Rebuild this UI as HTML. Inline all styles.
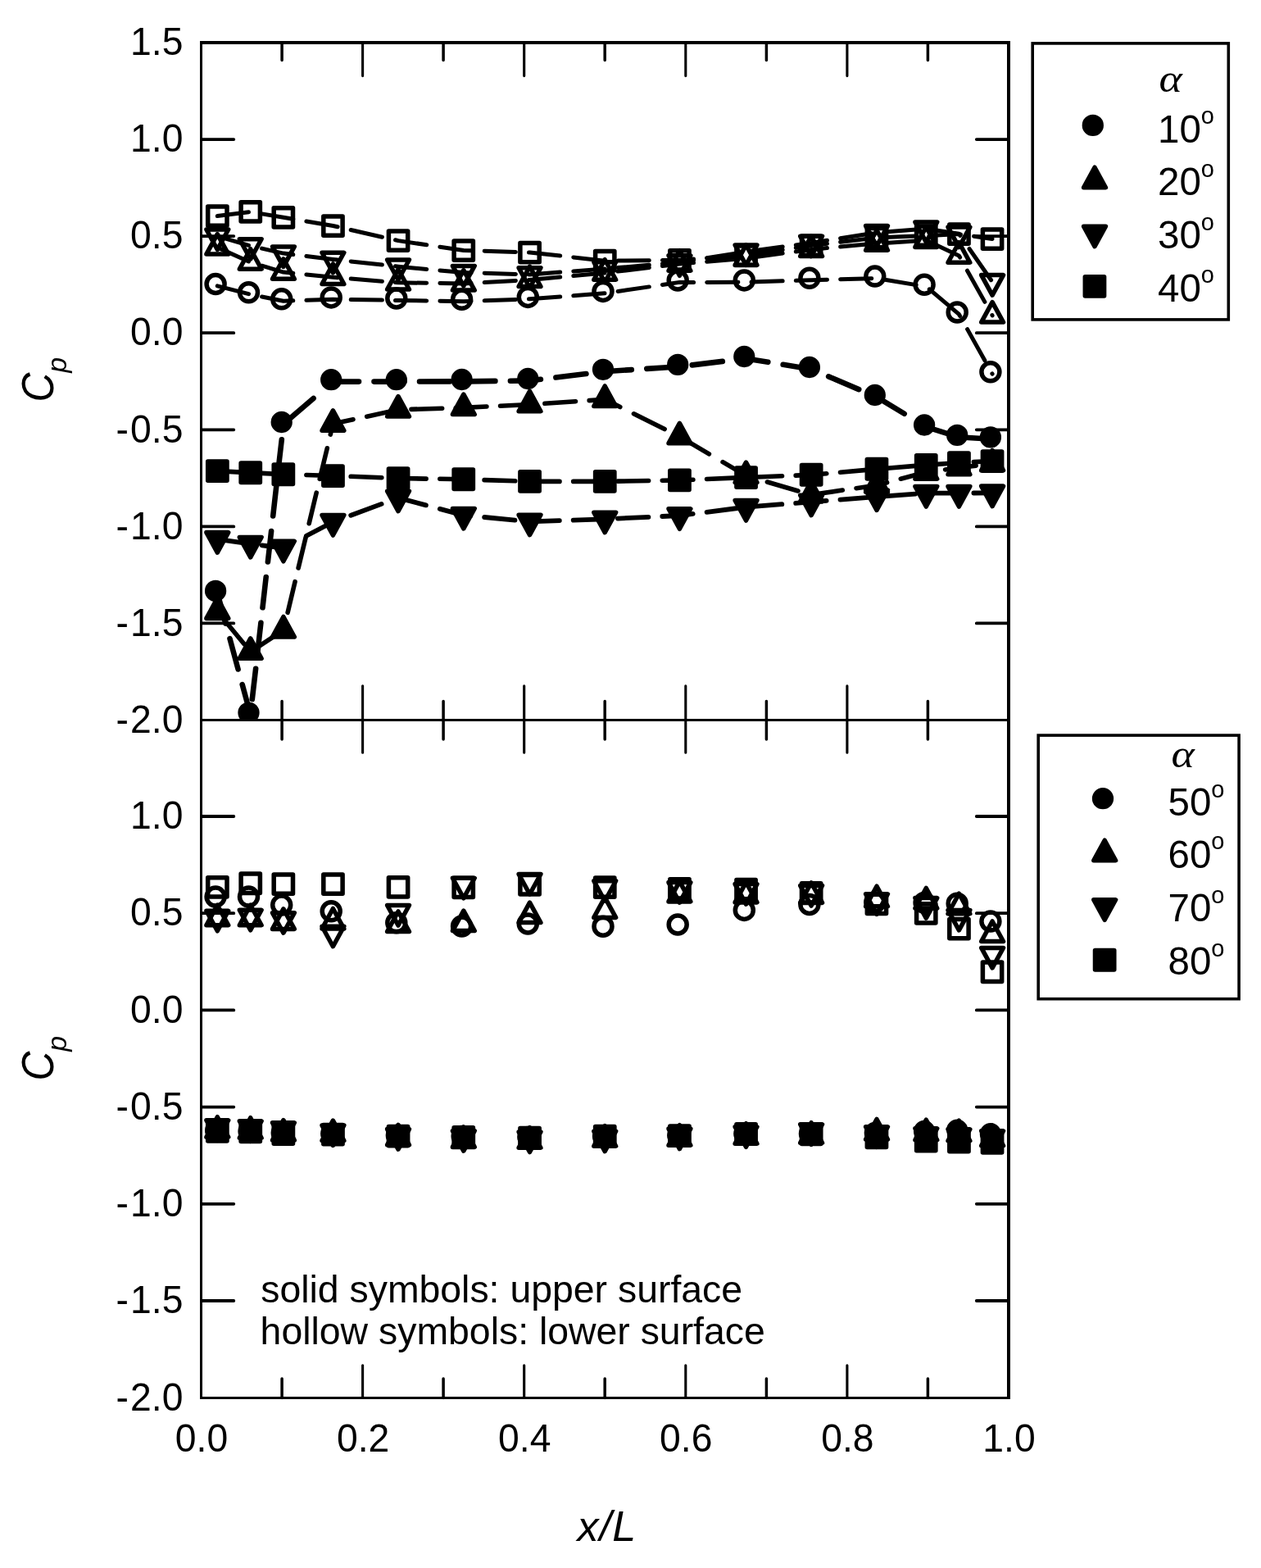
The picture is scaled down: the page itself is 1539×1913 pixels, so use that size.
<!DOCTYPE html>
<html lang="en"><head><meta charset="utf-8"><title>Cp distribution</title>
<style>
html,body{margin:0;padding:0;background:#fff;}
body{width:1539px;height:1913px;overflow:hidden;}
svg{display:block;}
text{font-family:"Liberation Sans",Arial,Helvetica,sans-serif;fill:#000;}
.tk{font-size:47.5px;}
.an{font-size:46.4px;}
.ti{font-size:52px;font-style:italic;}
.fr{fill:none;stroke:#000;stroke-width:3.2;stroke-linecap:square;}
.t{stroke:#000;stroke-linecap:round;fill:none;}
.ln{fill:none;stroke:#000;stroke-linecap:round;stroke-linejoin:round;}
.h{fill:none;stroke:#000;stroke-width:5.5;stroke-linejoin:round;}
.s{fill:#000;stroke:#000;stroke-width:5.5;stroke-linejoin:round;}
.lg{fill:#fff;stroke:#000;stroke-width:3.6;}
</style></head><body>
<svg width="1539" height="1913" viewBox="0 0 1539 1913">
<rect x="0" y="0" width="1539" height="1913" fill="#fff"/>
<defs>
<clipPath id="cpt"><rect x="245.5" y="52.0" width="985.5999999999999" height="826.3"/></clipPath>
<clipPath id="cpb"><rect x="245.5" y="878.3" width="985.5999999999999" height="827.4000000000001"/></clipPath>
</defs>
<g clip-path="url(#cpt)">
<path class="ln" stroke-width="6.6" d="M265.3 723.3L275.4 760.6M280.5 779.2L290.6 816.5M295.7 835.1L305.7 872L305.7 871.7M307.8 853L312.1 815.8M314.2 797.2L318.4 759.9M320.5 741.3L324.7 704M326.9 685.4L331.1 648.1M333.2 629.5L337.4 592.2M339.5 573.6L343.8 536.4M345.9 517.7L345.9 517.4L382.6 486M401 470.2L406.4 465.6L438 465.6M456.5 465.6L486 465.6L493.5 465.6M512 465.5L549 465.4M567.4 465.4L604.4 464.9M622.9 464.7L646.5 464.4L659.9 462.8M678.4 460.5L715.4 456M733.8 453.7L738.2 453.2L770.8 451.1M789.3 449.9L826.3 447.5M844.8 445.4L881.8 440.9M900.3 438.7L910.5 437.4L937.3 441.8M955.7 444.8L990.1 450.4L992.7 451.5M1011.2 459.4L1048.2 475.1M1066.7 483L1070 484.4L1103.7 504.8M1122.1 516L1130.3 520.9L1159.1 529.8M1177.6 533.7L1211.1 535.8"/>
<path class="ln" stroke-width="5.6" d="M267 748.2L298 785.8M313.1 790.3L345.9 768.8L347.1 764M351.1 747.3L360.1 709.7M364.1 693L373.2 655.4M377.2 638.7L386.2 601.1M390.2 584.4L399.3 546.8M403.3 530.1L406.4 517.1L431 511.8M447.7 508.2L485.3 500.1M502 499.4L539.6 498.2M556.3 497.7L565.8 497.4L593.9 496M610.6 495.2L646.5 493.5L648.2 493.4M664.9 492.3L702.5 489.7M719.2 488.6L738.2 487.3L756.8 496.5M773.5 504.8L811.1 523.5M827.8 531.8L829.4 532.6L865.4 553.8M882.1 563.7L910.5 580.4L919.7 583.1M936.4 588L974 599M990.7 603.6L1028.3 598.1M1045 595.7L1070 592L1082.6 588.7M1099.3 584.2L1130.3 576L1136.9 575.1M1153.6 572.9L1170.4 570.6L1191.2 568.1M1207.9 566.1L1211.1 565.7"/>
<path class="ln" stroke-width="5.8" d="M265.3 657.8L302.7 663.2M319.6 665.3L345.9 668.5L357 662.7M373.9 653.8L406.4 636.7L411.3 634.9M428.2 628.7L465.6 614.9M482.5 608.7L486 607.4L519.9 616.4M536.8 620.9L565.8 628.6L574.2 629.4M591.1 631L628.5 634.7M645.4 636.3L646.5 636.4L682.8 635.2M699.7 634.7L737.1 633.4M754 632.6L791.4 630.8M808.3 630L829.4 629L845.7 626.9M862.6 624.8L900 620M916.9 618.2L954.3 615.2M971.2 613.9L990.1 612.4L1008.6 610.9M1025.5 609.6L1062.9 606.7M1079.8 605.4L1117.2 602.7M1134.1 601.7L1170.4 601.7L1171.5 601.7M1188.4 601.5L1211.1 601.3"/>
<path class="ln" stroke-width="5.6" d="M265.3 574.6L302.9 576.6M319.6 577.4L345.9 578.7L357.2 579M373.9 579.5L406.4 580.5L411.5 580.7M428.2 581.3L465.8 582.7M482.5 583.4L486 583.5L520.1 584.1M536.8 584.3L565.8 584.8L574.4 585.1M591.1 585.6L628.7 586.8M645.4 587.4L646.5 587.4L683 587.4M699.7 587.4L737.3 587.4M754 587.1L791.6 586.5M808.3 586.2L829.4 585.9L845.9 585.2M862.6 584.5L900.2 582.9M916.9 582.2L954.5 580.7M971.2 580.1L990.1 579.3L1008.8 577.7M1025.5 576.2L1063.1 572.9M1079.8 571.5L1117.4 568.4M1134.1 567.1L1170.4 564.5L1171.7 564.4M1188.4 563.6L1211.1 562.5"/>
<path class="ln" stroke-width="5.0" d="M265.3 348.9L303.5 358.6M319.6 362L345.9 367.2L357.8 366.8M373.9 366.3L406.4 365.3L412.1 365.4M428.2 365.6L466.4 366.1M482.5 366.4L486 366.4L520.7 367M536.9 367.2L565.8 367.7L575 367.4M591.2 366.8L629.4 365.4M645.5 364.8L646.5 364.8L683.7 362M699.8 360.7L738 357.8M754.1 355.5L792.3 349.9M808.4 347.5L829.4 344.4L846.6 344.4M862.7 344.4L900.9 344.3M917 344.1L955.2 342.8M971.3 342.3L990.1 341.7L1009.5 341.2M1025.6 340.7L1063.8 339.7M1080 341.2L1118.2 347.6M1134.3 352.9L1170.4 383.4L1171.6 385.5M1180.6 401.6L1201.9 439.8M1210.9 455.9L1211.1 456.2"/>
<path class="ln" stroke-width="5.0" d="M265.3 301.9L303.5 319M319.6 324.2L345.9 332.1L357.8 333.3M373.9 335L406.4 338.3L412.1 338.8M428.2 340.1L466.4 343.2M482.5 344.5L486 344.8L520.7 345.3M536.9 345.5L565.8 345.9L575 345.4M591.2 344.5L629.4 342.4M645.5 341.5L646.5 341.4L683.7 338M699.8 336.5L738 333M754.1 331.1L792.3 326.5M808.4 324.5L829.4 322L846.6 320.6M862.7 319.2L900.9 316M917 314.3L955.2 309.1M971.3 306.9L990.1 304.4L1009.5 302.6M1025.6 301.1L1063.8 297.6M1080 296.4L1118.2 294M1134.3 295.1L1170.4 312L1171.6 314.1M1180.5 330.2L1201.9 368.4M1210.9 384.5L1211.1 384.9"/>
<path class="ln" stroke-width="5.0" d="M265.3 288.2L303.5 299.3M319.6 303.1L345.9 309.1L357.8 310.6M373.9 312.5L406.4 316.5L412.1 317.1M428.2 318.9L466.4 323.1M482.5 324.8L486 325.2L520.7 328.4M536.9 329.9L565.8 332.6L575 332.9M591.2 333.3L629.4 334.4M645.5 334.9L646.5 334.9L683.7 332.1M699.8 330.9L738 328M754.1 326.6L792.3 323.3M808.4 321.8L829.4 320L846.6 317.3M862.7 314.7L900.9 308.6M917 306.2L955.2 301.1M971.3 298.9L990.1 296.4L1009.5 293.3M1025.6 290.8L1063.8 284.8M1080 283L1118.2 280M1134.3 279.7L1170.4 285.3L1171.8 287.4M1183 303.5L1209.6 341.7"/>
<path class="ln" stroke-width="5.0" d="M265.3 263.6L303.5 258.8M319.6 260.9L345.9 265.3L357.8 267.3M373.9 270L406.4 275.5L412.1 276.8M428.2 280.5L466.4 289.2M482.5 292.8L486 293.6L520.7 298.8M536.9 301.2L565.8 305.5L575 305.8M591.2 306.3L629.4 307.5M645.5 308L646.5 308L683.7 312.1M699.8 313.9L738 318.2M754.1 318.1L792.3 317.7M808.4 317.6L829.4 317.4L846.6 316.1M862.7 315L900.9 312.2M917 310.5L955.2 304.8M971.3 302.4L990.1 299.6L1009.5 297.3M1025.6 295.3L1063.8 290.7M1080 289.6L1118.2 288.1M1134.3 287.4L1170.4 285.6L1172.5 285.9M1188.6 288.2L1211.1 291.5"/>
<g><circle class="s" cx="263.1" cy="720.9" r="10.4"/><circle class="s" cx="303.5" cy="869.6" r="10.4"/><circle class="s" cx="343.7" cy="515" r="10.4"/><circle class="s" cx="404.2" cy="463.2" r="10.4"/><circle class="s" cx="483.8" cy="463.2" r="10.4"/><circle class="s" cx="563.6" cy="463" r="10.4"/><circle class="s" cx="644.3" cy="462" r="10.4"/><circle class="s" cx="736" cy="450.8" r="10.4"/><circle class="s" cx="827.2" cy="444.9" r="10.4"/><circle class="s" cx="908.3" cy="435" r="10.4"/><circle class="s" cx="987.9" cy="448" r="10.4"/><circle class="s" cx="1067.8" cy="482" r="10.4"/><circle class="s" cx="1128.1" cy="518.5" r="10.4"/><circle class="s" cx="1168.2" cy="530.9" r="10.4"/><circle class="s" cx="1208.9" cy="533.4" r="10.4"/></g>
<g><polygon class="s" points="265.3,729.9 278.7,754.4 251.9,754.4"/><polygon class="s" points="305.7,778.8 319.1,803.3 292.3,803.3"/><polygon class="s" points="345.9,752.5 359.3,777 332.5,777"/><polygon class="s" points="406.4,500.8 419.8,525.3 393,525.3"/><polygon class="s" points="486,483.6 499.4,508.1 472.6,508.1"/><polygon class="s" points="565.8,481.1 579.2,505.6 552.4,505.6"/><polygon class="s" points="646.5,477.2 659.9,501.7 633.1,501.7"/><polygon class="s" points="738.2,471 751.6,495.5 724.8,495.5"/><polygon class="s" points="829.4,516.3 842.8,540.8 816,540.8"/><polygon class="s" points="910.5,564.1 923.9,588.6 897.1,588.6"/><polygon class="s" points="990.1,587.4 1003.5,611.9 976.7,611.9"/><polygon class="s" points="1070,575.7 1083.4,600.2 1056.6,600.2"/><polygon class="s" points="1130.3,559.7 1143.7,584.2 1116.9,584.2"/><polygon class="s" points="1170.4,554.3 1183.8,578.8 1157,578.8"/><polygon class="s" points="1211.1,549.4 1224.5,573.9 1197.7,573.9"/></g>
<g><polygon class="s" points="265.3,674.1 278.7,649.6 251.9,649.6"/><polygon class="s" points="305.7,679.9 319.1,655.4 292.3,655.4"/><polygon class="s" points="345.9,684.8 359.3,660.3 332.5,660.3"/><polygon class="s" points="406.4,653 419.8,628.5 393,628.5"/><polygon class="s" points="486,623.7 499.4,599.2 472.6,599.2"/><polygon class="s" points="565.8,644.9 579.2,620.4 552.4,620.4"/><polygon class="s" points="646.5,652.7 659.9,628.2 633.1,628.2"/><polygon class="s" points="738.2,649.7 751.6,625.2 724.8,625.2"/><polygon class="s" points="829.4,645.3 842.8,620.8 816,620.8"/><polygon class="s" points="910.5,635 923.9,610.5 897.1,610.5"/><polygon class="s" points="990.1,628.7 1003.5,604.2 976.7,604.2"/><polygon class="s" points="1070,622.4 1083.4,597.9 1056.6,597.9"/><polygon class="s" points="1130.3,618 1143.7,593.5 1116.9,593.5"/><polygon class="s" points="1170.4,618 1183.8,593.5 1157,593.5"/><polygon class="s" points="1211.1,617.6 1224.5,593.1 1197.7,593.1"/></g>
<g><rect class="s" x="253.7" y="563" width="23.3" height="23.3"/><rect class="s" x="294.1" y="565.1" width="23.3" height="23.3"/><rect class="s" x="334.2" y="567.1" width="23.3" height="23.3"/><rect class="s" x="394.8" y="568.9" width="23.3" height="23.3"/><rect class="s" x="474.4" y="571.9" width="23.3" height="23.3"/><rect class="s" x="554.1" y="573.1" width="23.3" height="23.3"/><rect class="s" x="634.9" y="575.8" width="23.3" height="23.3"/><rect class="s" x="726.6" y="575.8" width="23.3" height="23.3"/><rect class="s" x="817.8" y="574.2" width="23.3" height="23.3"/><rect class="s" x="898.9" y="570.9" width="23.3" height="23.3"/><rect class="s" x="978.5" y="567.6" width="23.3" height="23.3"/><rect class="s" x="1058.3" y="560.6" width="23.3" height="23.3"/><rect class="s" x="1118.6" y="555.8" width="23.3" height="23.3"/><rect class="s" x="1158.8" y="552.9" width="23.3" height="23.3"/><rect class="s" x="1199.4" y="550.9" width="23.3" height="23.3"/></g>
<g><circle class="h" cx="263.1" cy="346.5" r="11.0"/><circle class="h" cx="303.5" cy="356.8" r="11.0"/><circle class="h" cx="343.7" cy="364.8" r="11.0"/><circle class="h" cx="404.2" cy="362.9" r="11.0"/><circle class="h" cx="483.8" cy="364" r="11.0"/><circle class="h" cx="563.6" cy="365.3" r="11.0"/><circle class="h" cx="644.3" cy="362.4" r="11.0"/><circle class="h" cx="736" cy="355.4" r="11.0"/><circle class="h" cx="827.2" cy="342" r="11.0"/><circle class="h" cx="908.3" cy="341.9" r="11.0"/><circle class="h" cx="987.9" cy="339.3" r="11.0"/><circle class="h" cx="1067.8" cy="337.1" r="11.0"/><circle class="h" cx="1128.1" cy="347.2" r="11.0"/><circle class="h" cx="1168.2" cy="381" r="11.0"/><circle class="h" cx="1208.9" cy="453.8" r="11.0"/></g>
<g><polygon class="h" points="265.3,285.6 278.7,310.1 251.9,310.1"/><polygon class="h" points="305.7,303.7 319.1,328.2 292.3,328.2"/><polygon class="h" points="345.9,315.8 359.3,340.3 332.5,340.3"/><polygon class="h" points="406.4,322 419.8,346.5 393,346.5"/><polygon class="h" points="486,328.5 499.4,353 472.6,353"/><polygon class="h" points="565.8,329.6 579.2,354.1 552.4,354.1"/><polygon class="h" points="646.5,325.1 659.9,349.6 633.1,349.6"/><polygon class="h" points="738.2,316.7 751.6,341.2 724.8,341.2"/><polygon class="h" points="829.4,305.7 842.8,330.2 816,330.2"/><polygon class="h" points="910.5,298.9 923.9,323.4 897.1,323.4"/><polygon class="h" points="990.1,288.1 1003.5,312.6 976.7,312.6"/><polygon class="h" points="1070,280.7 1083.4,305.2 1056.6,305.2"/><polygon class="h" points="1130.3,276.9 1143.7,301.4 1116.9,301.4"/><polygon class="h" points="1170.4,295.7 1183.8,320.2 1157,320.2"/><polygon class="h" points="1211.1,368.6 1224.5,393.1 1197.7,393.1"/></g>
<g><polygon class="h" points="265.3,304.5 278.7,280 251.9,280"/><polygon class="h" points="305.7,316.2 319.1,291.7 292.3,291.7"/><polygon class="h" points="345.9,325.4 359.3,300.9 332.5,300.9"/><polygon class="h" points="406.4,332.8 419.8,308.3 393,308.3"/><polygon class="h" points="486,341.5 499.4,317 472.6,317"/><polygon class="h" points="565.8,348.9 579.2,324.4 552.4,324.4"/><polygon class="h" points="646.5,351.2 659.9,326.7 633.1,326.7"/><polygon class="h" points="738.2,344.3 751.6,319.8 724.8,319.8"/><polygon class="h" points="829.4,336.3 842.8,311.8 816,311.8"/><polygon class="h" points="910.5,323.4 923.9,298.9 897.1,298.9"/><polygon class="h" points="990.1,312.7 1003.5,288.2 976.7,288.2"/><polygon class="h" points="1070,300.1 1083.4,275.6 1056.6,275.6"/><polygon class="h" points="1130.3,295.4 1143.7,270.9 1116.9,270.9"/><polygon class="h" points="1170.4,301.6 1183.8,277.1 1157,277.1"/><polygon class="h" points="1211.1,360.1 1224.5,335.6 1197.7,335.6"/></g>
<g><rect class="h" x="253.7" y="252" width="23.3" height="23.3"/><rect class="h" x="294.1" y="246.8" width="23.3" height="23.3"/><rect class="h" x="334.2" y="253.7" width="23.3" height="23.3"/><rect class="h" x="394.8" y="263.9" width="23.3" height="23.3"/><rect class="h" x="474.4" y="282" width="23.3" height="23.3"/><rect class="h" x="554.1" y="293.9" width="23.3" height="23.3"/><rect class="h" x="634.9" y="296.4" width="23.3" height="23.3"/><rect class="h" x="726.6" y="306.6" width="23.3" height="23.3"/><rect class="h" x="817.8" y="305.8" width="23.3" height="23.3"/><rect class="h" x="898.9" y="299.9" width="23.3" height="23.3"/><rect class="h" x="978.5" y="288" width="23.3" height="23.3"/><rect class="h" x="1058.3" y="278.4" width="23.3" height="23.3"/><rect class="h" x="1118.6" y="276" width="23.3" height="23.3"/><rect class="h" x="1158.8" y="274" width="23.3" height="23.3"/><rect class="h" x="1199.4" y="279.9" width="23.3" height="23.3"/></g>
</g>
<g clip-path="url(#cpb)">
<g><circle class="s" cx="263.1" cy="1379" r="10.4"/><circle class="s" cx="303.5" cy="1380" r="10.4"/><circle class="s" cx="343.7" cy="1382" r="10.4"/><circle class="s" cx="404.2" cy="1383" r="10.4"/><circle class="s" cx="483.8" cy="1385" r="10.4"/><circle class="s" cx="563.6" cy="1386" r="10.4"/><circle class="s" cx="644.3" cy="1387" r="10.4"/><circle class="s" cx="736" cy="1386" r="10.4"/><circle class="s" cx="827.2" cy="1385" r="10.4"/><circle class="s" cx="908.3" cy="1383" r="10.4"/><circle class="s" cx="987.9" cy="1383" r="10.4"/><circle class="s" cx="1067.8" cy="1382" r="10.4"/><circle class="s" cx="1128.1" cy="1380" r="10.4"/><circle class="s" cx="1168.2" cy="1378.7" r="10.4"/><circle class="s" cx="1208.9" cy="1383.2" r="10.4"/></g>
<g><polygon class="s" points="265.3,1362.7 278.7,1387.2 251.9,1387.2"/><polygon class="s" points="305.7,1363.7 319.1,1388.2 292.3,1388.2"/><polygon class="s" points="345.9,1366.6 359.3,1391.1 332.5,1391.1"/><polygon class="s" points="406.4,1367.1 419.8,1391.6 393,1391.6"/><polygon class="s" points="486,1372.3 499.4,1396.8 472.6,1396.8"/><polygon class="s" points="565.8,1374.9 579.2,1399.4 552.4,1399.4"/><polygon class="s" points="646.5,1375.7 659.9,1400.2 633.1,1400.2"/><polygon class="s" points="738.2,1373.7 751.6,1398.2 724.8,1398.2"/><polygon class="s" points="829.4,1372.7 842.8,1397.2 816,1397.2"/><polygon class="s" points="910.5,1370.7 923.9,1395.2 897.1,1395.2"/><polygon class="s" points="990.1,1369.7 1003.5,1394.2 976.7,1394.2"/><polygon class="s" points="1070,1365.5 1083.4,1390 1056.6,1390"/><polygon class="s" points="1130.3,1366.2 1143.7,1390.7 1116.9,1390.7"/><polygon class="s" points="1170.4,1367.2 1183.8,1391.7 1157,1391.7"/><polygon class="s" points="1211.1,1373.2 1224.5,1397.7 1197.7,1397.7"/></g>
<g><polygon class="s" points="265.3,1391.3 278.7,1366.8 251.9,1366.8"/><polygon class="s" points="305.7,1392.3 319.1,1367.8 292.3,1367.8"/><polygon class="s" points="345.9,1394.3 359.3,1369.8 332.5,1369.8"/><polygon class="s" points="406.4,1397.4 419.8,1372.9 393,1372.9"/><polygon class="s" points="486,1402.1 499.4,1377.6 472.6,1377.6"/><polygon class="s" points="565.8,1404.2 579.2,1379.7 552.4,1379.7"/><polygon class="s" points="646.5,1405.5 659.9,1381 633.1,1381"/><polygon class="s" points="738.2,1404.7 751.6,1380.2 724.8,1380.2"/><polygon class="s" points="829.4,1401.6 842.8,1377.1 816,1377.1"/><polygon class="s" points="910.5,1399.3 923.9,1374.8 897.1,1374.8"/><polygon class="s" points="990.1,1396.3 1003.5,1371.8 976.7,1371.8"/><polygon class="s" points="1070,1399.3 1083.4,1374.8 1056.6,1374.8"/><polygon class="s" points="1130.3,1401.3 1143.7,1376.8 1116.9,1376.8"/><polygon class="s" points="1170.4,1402.3 1183.8,1377.8 1157,1377.8"/><polygon class="s" points="1211.1,1404.3 1224.5,1379.8 1197.7,1379.8"/></g>
<g><rect class="s" x="253.7" y="1368.8" width="23.3" height="23.3"/><rect class="s" x="294.1" y="1369.2" width="23.3" height="23.3"/><rect class="s" x="334.2" y="1372" width="23.3" height="23.3"/><rect class="s" x="394.8" y="1372.5" width="23.3" height="23.3"/><rect class="s" x="474.4" y="1374.4" width="23.3" height="23.3"/><rect class="s" x="554.1" y="1375.8" width="23.3" height="23.3"/><rect class="s" x="634.9" y="1376.5" width="23.3" height="23.3"/><rect class="s" x="726.6" y="1374.4" width="23.3" height="23.3"/><rect class="s" x="817.8" y="1373.9" width="23.3" height="23.3"/><rect class="s" x="898.9" y="1371.8" width="23.3" height="23.3"/><rect class="s" x="978.5" y="1372.2" width="23.3" height="23.3"/><rect class="s" x="1058.3" y="1376.3" width="23.3" height="23.3"/><rect class="s" x="1118.6" y="1380.5" width="23.3" height="23.3"/><rect class="s" x="1158.8" y="1381.5" width="23.3" height="23.3"/><rect class="s" x="1199.4" y="1382.6" width="23.3" height="23.3"/></g>
<g><circle class="h" cx="263.1" cy="1094.1" r="11.0"/><circle class="h" cx="303.5" cy="1094.1" r="11.0"/><circle class="h" cx="343.7" cy="1104.1" r="11.0"/><circle class="h" cx="404.2" cy="1111.8" r="11.0"/><circle class="h" cx="483.8" cy="1125.8" r="11.0"/><circle class="h" cx="563.6" cy="1130" r="11.0"/><circle class="h" cx="644.3" cy="1127" r="11.0"/><circle class="h" cx="736" cy="1130.2" r="11.0"/><circle class="h" cx="827.2" cy="1128" r="11.0"/><circle class="h" cx="908.3" cy="1110.4" r="11.0"/><circle class="h" cx="987.9" cy="1103.5" r="11.0"/><circle class="h" cx="1067.8" cy="1100.8" r="11.0"/><circle class="h" cx="1128.1" cy="1101.4" r="11.0"/><circle class="h" cx="1168.2" cy="1102.2" r="11.0"/><circle class="h" cx="1208.9" cy="1124.1" r="11.0"/></g>
<g><polygon class="h" points="265.3,1104.2 278.7,1128.7 251.9,1128.7"/><polygon class="h" points="305.7,1104.2 319.1,1128.7 292.3,1128.7"/><polygon class="h" points="345.9,1108.9 359.3,1133.4 332.5,1133.4"/><polygon class="h" points="406.4,1108.5 419.8,1133 393,1133"/><polygon class="h" points="486,1112 499.4,1136.5 472.6,1136.5"/><polygon class="h" points="565.8,1111.1 579.2,1135.6 552.4,1135.6"/><polygon class="h" points="646.5,1101.1 659.9,1125.6 633.1,1125.6"/><polygon class="h" points="738.2,1094.9 751.6,1119.4 724.8,1119.4"/><polygon class="h" points="829.4,1075.4 842.8,1099.9 816,1099.9"/><polygon class="h" points="910.5,1076.4 923.9,1100.9 897.1,1100.9"/><polygon class="h" points="990.1,1076.9 1003.5,1101.4 976.7,1101.4"/><polygon class="h" points="1070,1081.2 1083.4,1105.7 1056.6,1105.7"/><polygon class="h" points="1130.3,1083.5 1143.7,1108 1116.9,1108"/><polygon class="h" points="1170.4,1090.2 1183.8,1114.7 1157,1114.7"/><polygon class="h" points="1211.1,1124 1224.5,1148.5 1197.7,1148.5"/></g>
<g><polygon class="h" points="265.3,1135.8 278.7,1111.3 251.9,1111.3"/><polygon class="h" points="305.7,1134.8 319.1,1110.3 292.3,1110.3"/><polygon class="h" points="345.9,1138.2 359.3,1113.7 332.5,1113.7"/><polygon class="h" points="406.4,1154.7 419.8,1130.2 393,1130.2"/><polygon class="h" points="486,1129 499.4,1104.5 472.6,1104.5"/><polygon class="h" points="565.8,1095.8 579.2,1071.3 552.4,1071.3"/><polygon class="h" points="646.5,1091 659.9,1066.5 633.1,1066.5"/><polygon class="h" points="738.2,1099.2 751.6,1074.7 724.8,1074.7"/><polygon class="h" points="829.4,1101.1 842.8,1076.6 816,1076.6"/><polygon class="h" points="910.5,1103.1 923.9,1078.6 897.1,1078.6"/><polygon class="h" points="990.1,1105 1003.5,1080.5 976.7,1080.5"/><polygon class="h" points="1070,1115.3 1083.4,1090.8 1056.6,1090.8"/><polygon class="h" points="1130.3,1120.1 1143.7,1095.6 1116.9,1095.6"/><polygon class="h" points="1170.4,1134.9 1183.8,1110.4 1157,1110.4"/><polygon class="h" points="1211.1,1180.9 1224.5,1156.4 1197.7,1156.4"/></g>
<g><rect class="h" x="253.7" y="1070.8" width="23.3" height="23.3"/><rect class="h" x="294.1" y="1066.1" width="23.3" height="23.3"/><rect class="h" x="334.2" y="1067" width="23.3" height="23.3"/><rect class="h" x="394.8" y="1067" width="23.3" height="23.3"/><rect class="h" x="474.4" y="1070.8" width="23.3" height="23.3"/><rect class="h" x="554.1" y="1071.3" width="23.3" height="23.3"/><rect class="h" x="634.9" y="1067.6" width="23.3" height="23.3"/><rect class="h" x="726.6" y="1071" width="23.3" height="23.3"/><rect class="h" x="817.8" y="1072.8" width="23.3" height="23.3"/><rect class="h" x="898.9" y="1073.4" width="23.3" height="23.3"/><rect class="h" x="978.5" y="1077.8" width="23.3" height="23.3"/><rect class="h" x="1058.3" y="1091.3" width="23.3" height="23.3"/><rect class="h" x="1118.6" y="1102.8" width="23.3" height="23.3"/><rect class="h" x="1158.8" y="1121.5" width="23.3" height="23.3"/><rect class="h" x="1199.4" y="1174.1" width="23.3" height="23.3"/></g>
</g>
<path fill="#000" d="M244 50h3v1657h-3zM1229 50h4v1657h-4zM244 50h989v4h-989zM244 877h989v3h-989zM244 1704h989v3h-989z"/>
<path class="t" stroke-width="3.1" d="M442.6 52V92.6M442.6 836.7V918.3M442.6 1705.5V1665.7M639.7 52V92.6M639.7 836.7V918.3M639.7 1705.5V1665.7M836.8 52V92.6M836.8 836.7V918.3M836.8 1705.5V1665.7M1033.9 52V92.6M1033.9 836.7V918.3M1033.9 1705.5V1665.7"/>
<path class="t" stroke-width="3.5" d="M344.1 52V73.6M344.1 855.5V901.9M344.1 1705.5V1682.1M541.1 52V73.6M541.1 855.5V901.9M541.1 1705.5V1682.1M738.2 52V73.6M738.2 855.5V901.9M738.2 1705.5V1682.1M935.4 52V73.6M935.4 855.5V901.9M935.4 1705.5V1682.1M1132.4 52V73.6M1132.4 855.5V901.9M1132.4 1705.5V1682.1"/>
<path class="t" stroke-width="3.8" d="M246 170.1H285.3M1230 170.1H1191.8M246 288.1H285.3M1230 288.1H1191.8M246 406.2H285.3M1230 406.2H1191.8M246 524.3H285.3M1230 524.3H1191.8M246 642.4H285.3M1230 642.4H1191.8M246 760.4H285.3M1230 760.4H1191.8M246 996H285.3M1230 996H1191.8M246 1114.2H285.3M1230 1114.2H1191.8M246 1232.4H285.3M1230 1232.4H1191.8M246 1350.6H285.3M1230 1350.6H1191.8M246 1468.8H285.3M1230 1468.8H1191.8M246 1587H285.3M1230 1587H1191.8"/>
<g class="tk" text-anchor="end">
<text transform="translate(223.4 67.2) scale(.975 1.01)">1.5</text>
<text transform="translate(223.4 185.3) scale(.975 1.01)">1.0</text>
<text transform="translate(223.4 303.3) scale(.975 1.01)">0.5</text>
<text transform="translate(223.4 421.4) scale(.975 1.01)">0.0</text>
<text transform="translate(223.4 539.5) scale(.975 1.01)"><tspan letter-spacing="2.2">-</tspan>0.5</text>
<text transform="translate(223.4 657.6) scale(.975 1.01)"><tspan letter-spacing="2.2">-</tspan>1.0</text>
<text transform="translate(223.4 775.6) scale(.975 1.01)"><tspan letter-spacing="2.2">-</tspan>1.5</text>
<text transform="translate(223.4 893.7) scale(.975 1.01)"><tspan letter-spacing="2.2">-</tspan>2.0</text>
<text transform="translate(223.4 1011.2) scale(.975 1.01)">1.0</text>
<text transform="translate(223.4 1129.4) scale(.975 1.01)">0.5</text>
<text transform="translate(223.4 1247.6) scale(.975 1.01)">0.0</text>
<text transform="translate(223.4 1365.8) scale(.975 1.01)"><tspan letter-spacing="2.2">-</tspan>0.5</text>
<text transform="translate(223.4 1484) scale(.975 1.01)"><tspan letter-spacing="2.2">-</tspan>1.0</text>
<text transform="translate(223.4 1602.2) scale(.975 1.01)"><tspan letter-spacing="2.2">-</tspan>1.5</text>
<text transform="translate(223.4 1720.7) scale(.975 1.01)"><tspan letter-spacing="2.2">-</tspan>2.0</text>
</g>
<g class="tk" text-anchor="middle">
<text transform="translate(246 1771.2) scale(.975 1.01)">0.0</text>
<text transform="translate(443.1 1771.2) scale(.975 1.01)">0.2</text>
<text transform="translate(640.2 1771.2) scale(.975 1.01)">0.4</text>
<text transform="translate(837.3 1771.2) scale(.975 1.01)">0.6</text>
<text transform="translate(1034.4 1771.2) scale(.975 1.01)">0.8</text>
<text transform="translate(1231.5 1771.2) scale(.975 1.01)">1.0</text>
</g>
<text class="ti" text-anchor="middle" x="741" y="1880" letter-spacing="1.2">x/L</text>
<text class="ti" transform="translate(65.2 490.5) rotate(-90) scale(0.956 1.05)">C</text>
<text class="ti" font-size="34" style="font-size:34px" transform="translate(81.0 454.8) rotate(-90)">p</text>
<text class="ti" transform="translate(65.2 1318.5) rotate(-90) scale(0.956 1.05)">C</text>
<text class="ti" font-size="34" style="font-size:34px" transform="translate(81.0 1282.8) rotate(-90)">p</text>
<text class="an" x="318.2" y="1588.8">solid symbols: upper surface</text>
<text class="an" x="317.6" y="1639.6">hollow symbols: lower surface</text>
<rect class="lg" x="1260.2" y="52.9" width="239.1" height="337"/>
<text transform="translate(1414.5 112.3) scale(1.17 1.06)" font-size="46" font-style="italic" style="font-family:'Liberation Serif','DejaVu Serif',serif">α</text>
<circle class="s" cx="1333.8" cy="152.9" r="10.4"/>
<text class="tk" x="1413.0" y="173.7">10<tspan font-size="29" dy="-22.3">o</tspan></text>
<polygon class="s" points="1336,204.2 1349.4,228.7 1322.6,228.7"/>
<text class="tk" x="1413.0" y="237.8">20<tspan font-size="29" dy="-22.3">o</tspan></text>
<polygon class="s" points="1336,300.7 1349.4,276.2 1322.6,276.2"/>
<text class="tk" x="1413.0" y="303.3">30<tspan font-size="29" dy="-22.3">o</tspan></text>
<rect class="s" x="1324.3" y="337.7" width="23.3" height="23.3"/>
<text class="tk" x="1413.0" y="367.5">40<tspan font-size="29" dy="-22.3">o</tspan></text>
<rect class="lg" x="1267.2" y="897.1" width="244.9" height="321.6"/>
<text transform="translate(1429.5 935.6) scale(1.17 1.06)" font-size="46" font-style="italic" style="font-family:'Liberation Serif','DejaVu Serif',serif">α</text>
<circle class="s" cx="1346" cy="974.2" r="10.4"/>
<text class="tk" x="1425.5" y="994.8">50<tspan font-size="29" dy="-22.3">o</tspan></text>
<polygon class="s" points="1348.2,1025.2 1361.6,1049.7 1334.8,1049.7"/>
<text class="tk" x="1425.5" y="1058.6">60<tspan font-size="29" dy="-22.3">o</tspan></text>
<polygon class="s" points="1348.2,1122.3 1361.6,1097.8 1334.8,1097.8"/>
<text class="tk" x="1425.5" y="1123.8">70<tspan font-size="29" dy="-22.3">o</tspan></text>
<rect class="s" x="1336.5" y="1159.6" width="23.3" height="23.3"/>
<text class="tk" x="1425.5" y="1189.2">80<tspan font-size="29" dy="-22.3">o</tspan></text>
</svg></body></html>
